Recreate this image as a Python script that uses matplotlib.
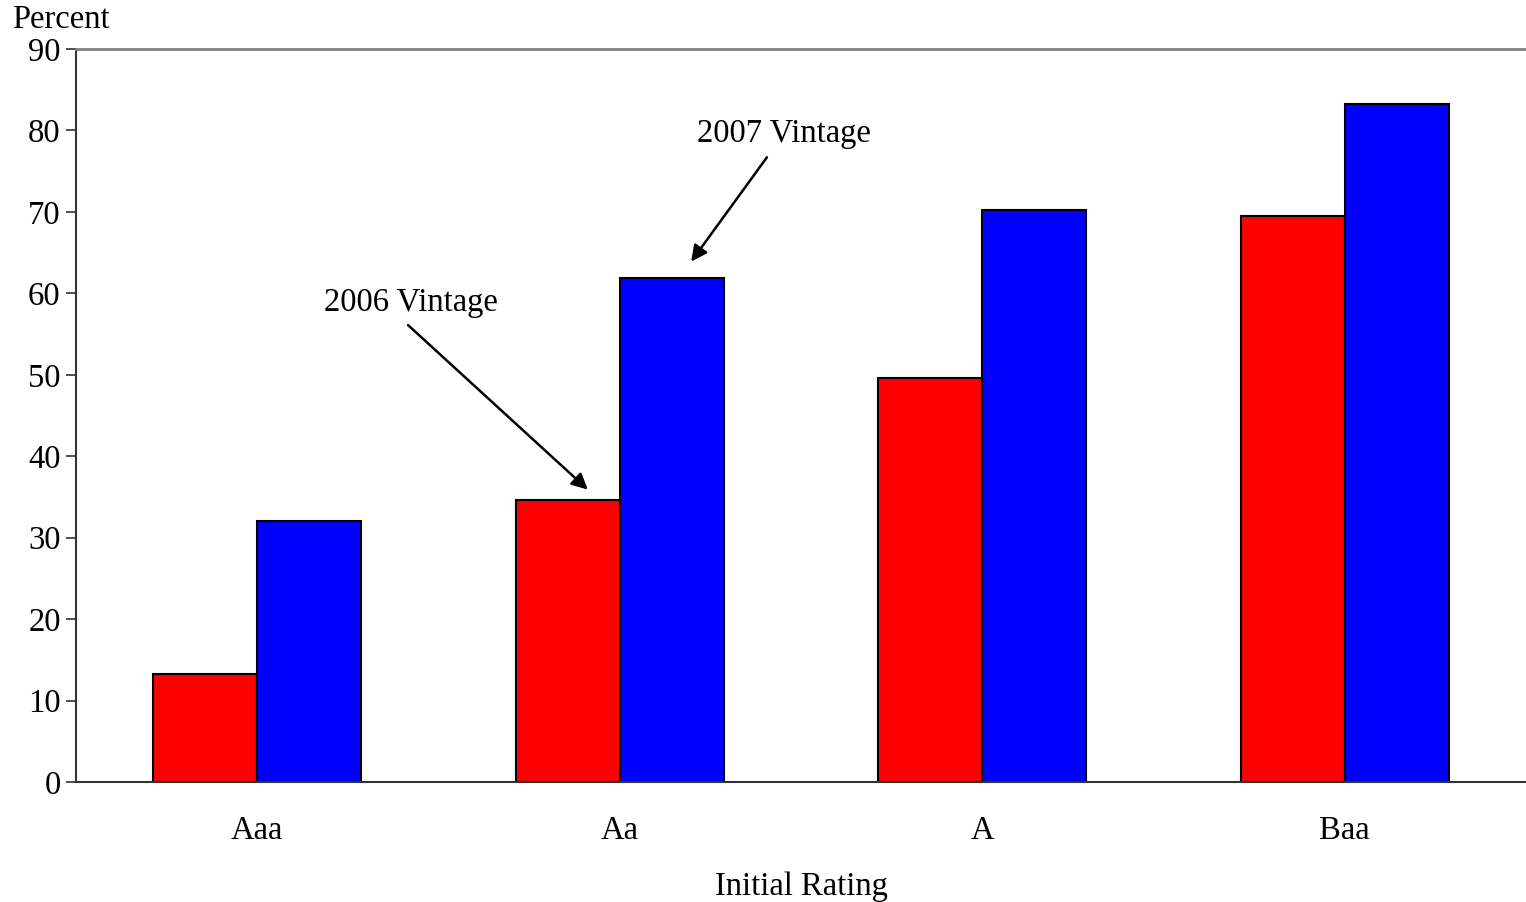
import numpy as np
import matplotlib.pyplot as plt

# datos
ratings = ['Aaa', 'Aa', 'A', 'Baa']
vintage_2006 = [13.3, 34.6, 49.6, 69.5]
vintage_2007 = [32.0, 61.9, 70.2, 83.3]

plt.rcParams['font.family'] = ['Liberation Serif', 'DejaVu Serif']
plt.rcParams['font.size'] = 23.5

fig = plt.figure(figsize=(15.26, 9.02), dpi=100)
ax = fig.add_axes([76 / 1526, 1 - 782 / 902, 1450 / 1526, 733 / 902])

x = np.arange(len(ratings))
w = 0.287
ax.bar(x - w / 2, vintage_2006, w, color='#ff0000', edgecolor='black', linewidth=1.5)
ax.bar(x + w / 2, vintage_2007, w, color='#0000ff', edgecolor='black', linewidth=1.5)

ax.set_xlim(-0.5, 3.5)
ax.set_ylim(0, 90)
ax.set_yticks(np.arange(0, 91, 10))
ax.set_xticks(x)
ax.set_xticklabels(ratings)
ax.tick_params(axis='x', length=0, pad=24)
ax.tick_params(axis='y', length=7, width=1.2, color='#333333', pad=4)

ax.spines['right'].set_visible(False)
ax.spines['top'].set_color('#808080')
ax.spines['top'].set_linewidth(2)
ax.spines['left'].set_color('#333333')
ax.spines['bottom'].set_color('#333333')
ax.spines['left'].set_linewidth(1.5)
ax.spines['bottom'].set_linewidth(1.5)

ax.set_xlabel('Initial Rating', va='center')
ax.xaxis.set_label_coords(0.5, -0.1425)
fig.text(12 / 1526, 1 - 20 / 902, 'Percent', ha='left', va='center')

# flechas de anotacion
flecha = dict(arrowstyle='-|>', color='black', lw=1.8, mutation_scale=24, shrinkA=0, shrinkB=0)
ax.annotate('', xy=(0.912, 35.9), xytext=(0.416, 56.1), arrowprops=flecha)
ax.text(0.424, 58.8, '2006 Vintage', ha='center', va='center')
ax.annotate('', xy=(1.197, 63.9), xytext=(1.406, 76.7), arrowprops=flecha)
ax.text(1.453, 79.6, '2007 Vintage', ha='center', va='center')

fig.savefig('out.png', dpi=100)
